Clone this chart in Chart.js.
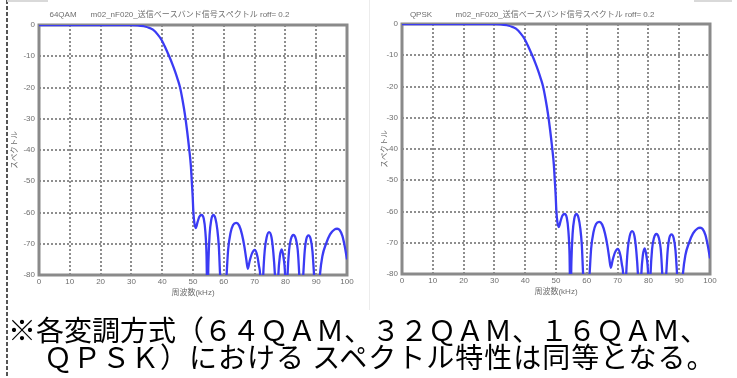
<!DOCTYPE html>
<html lang="ja">
<head>
<meta charset="utf-8">
<script src="https://cdn.jsdelivr.net/npm/chart.js@4.4.1/dist/chart.umd.min.js"></script>
<style>
  html, body { margin: 0; padding: 0; background: #fff; }
  body { width: 737px; height: 378px; position: relative; overflow: hidden; }
  canvas.spec { position: absolute; top: 0; filter: blur(0.45px); }
  .dash { position: absolute; left: 6px; top: 0; width: 2px; height: 378px;
          background: repeating-linear-gradient(to bottom, #555 0 4px, transparent 4px 6px); }
  .edge { position: absolute; background: #d9d9d9; }
  .note { position: absolute; font-family: "Noto Sans CJK JP", sans-serif; font-size: 28px;
          color: #000; white-space: pre; line-height: 30px; }
</style>
</head>
<body>
<div class="dash"></div>
<div class="edge" style="left:7px;top:0;width:41px;height:2px;"></div>
<div class="edge" style="left:694px;top:0;width:38px;height:2px;"></div>
<div class="edge" style="left:369px;top:0;width:1px;height:310px;background:#ececec;"></div>
<canvas id="left" class="spec" width="369" height="310" style="left:0"></canvas>
<canvas id="right" class="spec" width="367" height="310" style="left:370px"></canvas>
<div class="note" style="left:8px;top:314px;">※各変調方式（６４ＱＡＭ、３２ＱＡＭ、１６ＱＡＭ、</div>
<div class="note" style="left:44px;top:341px;letter-spacing:1px;">ＱＰＳＫ）における スペクトル特性は同等となる。</div>
<script>
// Frequency axis (kHz) and transmit baseband spectrum (dB)
const freqKHz = [0, 10, 20, 30, 32, 34, 36, 37, 38.5, 39.8, 41, 42.3, 43.3, 44.2, 45, 45.8, 46.6, 47.4,
  48.1, 48.8, 49.3, 49.6, 49.9, 50.1, 50.4, 50.9, 51.5, 52.1, 52.8, 53.5, 54.0, 54.4, 54.7, 55.0,
  55.4, 55.9, 56.6, 57.3, 57.9, 58.4, 58.8, 59.9, 60.9, 61.4, 62.2, 63.0, 64.0, 65.0, 65.9, 66.7,
  67.3, 67.8, 68.4, 69.2, 70.1, 70.9, 71.4, 71.8, 72.3, 72.8, 73.3, 73.9, 74.7, 75.5, 76.1, 76.6,
  77.2, 77.7, 78.2, 78.8, 79.4, 79.9, 80.3, 80.7, 81.2, 81.8, 82.6, 83.4, 84.0, 84.5, 85.1, 85.8,
  86.3, 86.8, 87.5, 88.2, 88.8, 89.3, 90.2, 91.2, 92.0, 93.2, 94.5, 96.0, 96.8, 97.6, 98.5, 99.3, 100];
const spectrumDb = [0, 0, 0, 0, -0.1, -0.4, -1.0, -1.5, -3.0, -4.8, -7.2, -10.1, -12.5, -14.9, -17.3, -20, -24, -28.8,
  -34, -40, -45, -50, -55, -59.5, -63, -65, -63, -61.3, -60.8, -62, -66, -74, -92, -76,
  -67, -62.5, -60.8, -62, -65.5, -71, -80, -95, -80, -72, -66.5, -64, -63.3, -64.2, -67, -71,
  -75, -78, -75.5, -73, -72, -74, -77, -80, -95, -80, -72, -68, -66.3, -68, -73, -80,
  -95, -80, -74, -71.8, -74.5, -80, -95, -80, -72, -68.5, -67.2, -68.5, -72, -80, -95, -80,
  -72, -68.5, -67.3, -68.5, -72.5, -80, -95, -80, -74, -70, -67, -65.4, -65.2, -65.6, -67.5, -71, -75];

const modulationLabels = ['64QAM', 'QPSK'];
const plotTitle = 'm02_nF020_送信ベースバンド信号スペクトル roff= 0.2';
const xAxisTitle = '周波数(kHz)';
const yAxisTitle = 'スペクトル';
const xTicks = [0, 10, 20, 30, 40, 50, 60, 70, 80, 90, 100];
const yTicks = [0, -10, -20, -30, -40, -50, -60, -70, -80];

const LABEL_FONT = '"Liberation Sans", "Noto Sans CJK JP", sans-serif';
const GRID_GREY = '#8e8e8e';
const FRAME_GREY = '#8a8a8a';
const TEXT_GREY = '#6e6e6e';

// Draws the heavy box frame and the small headings above the plot
const framePlugin = {
  id: 'frame',
  beforeDatasetsDraw(chart) {
    const { ctx, chartArea: a } = chart;
    ctx.save();
    ctx.strokeStyle = FRAME_GREY;
    ctx.lineWidth = 3;
    ctx.strokeRect(a.left, a.top, a.right - a.left, a.bottom - a.top);
    ctx.restore();
  },
  afterDraw(chart, args, opts) {
    const { ctx } = chart;
    ctx.save();
    ctx.fillStyle = TEXT_GREY;
    ctx.textAlign = 'center';
    ctx.textBaseline = 'middle';
    ctx.font = '8px ' + LABEL_FONT;
    ctx.fillText(opts.label, opts.labelX, 15);
    ctx.fillText(plotTitle, opts.titleX, 15);
    ctx.restore();
  }
};

function makeChart(id, cfg) {
  const canvas = document.getElementById(id);
  const W = canvas.width, H = canvas.height;
  const points = freqKHz.map((f, i) => ({ x: f, y: spectrumDb[i] }));
  return new Chart(canvas, {
    type: 'line',
    data: {
      datasets: [{
        data: points,
        borderColor: '#3b3bf4',
        borderWidth: 2.3,
        pointRadius: 0,
        cubicInterpolationMode: 'monotone',
        fill: false
      }]
    },
    plugins: [framePlugin],
    options: {
      responsive: false,
      animation: false,
      devicePixelRatio: 1,
      layout: { padding: { left: 6, top: cfg.top, right: W - cfg.right, bottom: H - cfg.bottom - 26 } },
      plugins: {
        legend: { display: false },
        tooltip: { enabled: false },
        frame: { label: cfg.label, labelX: cfg.labelX, titleX: cfg.titleX }
      },
      scales: {
        x: {
          type: 'linear',
          min: 0, max: 100,
          afterFit(s) { s.height = 26; },
          afterBuildTicks(s) { s.ticks = xTicks.map(v => ({ value: v })); },
          grid: { color: GRID_GREY, lineWidth: 2, drawTicks: false },
          border: { display: false, dash: [2, 2] },
          ticks: { color: TEXT_GREY, font: { size: 8, family: LABEL_FONT }, padding: 2, maxRotation: 0 },
          title: { display: true, text: xAxisTitle, color: TEXT_GREY,
                   font: { size: 8, family: LABEL_FONT }, padding: { top: 2, bottom: 3 } }
        },
        y: {
          type: 'linear',
          min: -80, max: 0,
          afterFit(s) { s.width = cfg.left - 6; },
          afterBuildTicks(s) { s.ticks = yTicks.slice().reverse().map(v => ({ value: v })); },
          grid: { color: GRID_GREY, lineWidth: 2, drawTicks: false },
          border: { display: false, dash: [2, 2] },
          ticks: { color: TEXT_GREY, font: { size: 8, family: LABEL_FONT }, padding: 4 },
          title: { display: true, text: yAxisTitle, color: TEXT_GREY,
                   font: { size: 7.5, family: LABEL_FONT }, padding: { top: 4, bottom: 2 } }
        }
      }
    }
  });
}

makeChart('left',  { left: 39, right: 347, top: 25, bottom: 275, label: modulationLabels[0], labelX: 63, titleX: 190 });
makeChart('right', { left: 32, right: 340, top: 24, bottom: 274, label: modulationLabels[1], labelX: 51, titleX: 185 });
</script>
</body>
</html>
